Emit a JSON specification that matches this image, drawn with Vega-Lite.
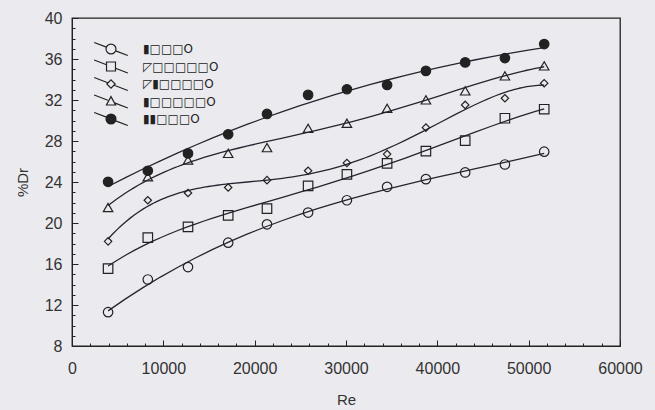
{
  "$schema": "https://vega.github.io/schema/vega-lite/v6.json",
  "width": 548,
  "height": 328,
  "autosize": {"type": "none"},
  "padding": {"left": 72, "top": 18, "right": 35, "bottom": 64},
  "background": "#ebebef",
  "config": {
    "view": {"stroke": "#222", "strokeWidth": 1.3},
    "axis": {"labelFont": "Liberation Sans", "titleFont": "Liberation Sans", "labelColor": "#333", "titleColor": "#333", "domainColor": "#222", "tickColor": "#222", "grid": false, "labelFontSize": 16, "titleFontSize": 15, "titleFontWeight": "normal"}
  },
  "data": {"values": [
    {"series": "▮□□□O", "Re": 3950, "Dr": 11.30},
    {"series": "▮□□□O", "Re": 8300, "Dr": 14.49},
    {"series": "▮□□□O", "Re": 12700, "Dr": 15.70},
    {"series": "▮□□□O", "Re": 17100, "Dr": 18.08},
    {"series": "▮□□□O", "Re": 21350, "Dr": 19.87},
    {"series": "▮□□□O", "Re": 25850, "Dr": 21.02},
    {"series": "▮□□□O", "Re": 30100, "Dr": 22.22},
    {"series": "▮□□□O", "Re": 34500, "Dr": 23.53},
    {"series": "▮□□□O", "Re": 38750, "Dr": 24.28},
    {"series": "▮□□□O", "Re": 43050, "Dr": 24.93},
    {"series": "▮□□□O", "Re": 47400, "Dr": 25.71},
    {"series": "▮□□□O", "Re": 51700, "Dr": 26.96},
    {"series": "◸□□□□□O", "Re": 3950, "Dr": 15.54},
    {"series": "◸□□□□□O", "Re": 8300, "Dr": 18.57},
    {"series": "◸□□□□□O", "Re": 12700, "Dr": 19.62},
    {"series": "◸□□□□□O", "Re": 17100, "Dr": 20.75},
    {"series": "◸□□□□□O", "Re": 21350, "Dr": 21.41},
    {"series": "◸□□□□□O", "Re": 25850, "Dr": 23.63},
    {"series": "◸□□□□□O", "Re": 30100, "Dr": 24.74},
    {"series": "◸□□□□□O", "Re": 34500, "Dr": 25.81},
    {"series": "◸□□□□□O", "Re": 38750, "Dr": 27.02},
    {"series": "◸□□□□□O", "Re": 43050, "Dr": 28.03},
    {"series": "◸□□□□□O", "Re": 47400, "Dr": 30.22},
    {"series": "◸□□□□□O", "Re": 51700, "Dr": 31.10},
    {"series": "◸▮□□□□O", "Re": 3950, "Dr": 18.21},
    {"series": "◸▮□□□□O", "Re": 8300, "Dr": 22.22},
    {"series": "◸▮□□□□O", "Re": 12700, "Dr": 22.93},
    {"series": "◸▮□□□□O", "Re": 17100, "Dr": 23.46},
    {"series": "◸▮□□□□O", "Re": 21350, "Dr": 24.18},
    {"series": "◸▮□□□□O", "Re": 25850, "Dr": 25.10},
    {"series": "◸▮□□□□O", "Re": 30100, "Dr": 25.86},
    {"series": "◸▮□□□□O", "Re": 34500, "Dr": 26.72},
    {"series": "◸▮□□□□O", "Re": 38750, "Dr": 29.31},
    {"series": "◸▮□□□□O", "Re": 43050, "Dr": 31.52},
    {"series": "◸▮□□□□O", "Re": 47400, "Dr": 32.17},
    {"series": "◸▮□□□□O", "Re": 51700, "Dr": 33.64},
    {"series": "▮□□□□□O", "Re": 3950, "Dr": 21.51},
    {"series": "▮□□□□□O", "Re": 8300, "Dr": 24.51},
    {"series": "▮□□□□□O", "Re": 12700, "Dr": 26.14},
    {"series": "▮□□□□□O", "Re": 17100, "Dr": 26.79},
    {"series": "▮□□□□□O", "Re": 21350, "Dr": 27.35},
    {"series": "▮□□□□□O", "Re": 25850, "Dr": 29.24},
    {"series": "▮□□□□□O", "Re": 30100, "Dr": 29.73},
    {"series": "▮□□□□□O", "Re": 34500, "Dr": 31.19},
    {"series": "▮□□□□□O", "Re": 38750, "Dr": 32.01},
    {"series": "▮□□□□□O", "Re": 43050, "Dr": 32.89},
    {"series": "▮□□□□□O", "Re": 47400, "Dr": 34.35},
    {"series": "▮□□□□□O", "Re": 51700, "Dr": 35.33},
    {"series": "▮▮□□□O", "Re": 3950, "Dr": 24.02},
    {"series": "▮▮□□□O", "Re": 8300, "Dr": 25.10},
    {"series": "▮▮□□□O", "Re": 12700, "Dr": 26.79},
    {"series": "▮▮□□□O", "Re": 17100, "Dr": 28.65},
    {"series": "▮▮□□□O", "Re": 21350, "Dr": 30.64},
    {"series": "▮▮□□□O", "Re": 25850, "Dr": 32.50},
    {"series": "▮▮□□□O", "Re": 30100, "Dr": 33.05},
    {"series": "▮▮□□□O", "Re": 34500, "Dr": 33.47},
    {"series": "▮▮□□□O", "Re": 38750, "Dr": 34.84},
    {"series": "▮▮□□□O", "Re": 43050, "Dr": 35.67},
    {"series": "▮▮□□□O", "Re": 47400, "Dr": 36.09},
    {"series": "▮▮□□□O", "Re": 51700, "Dr": 37.46}
  ]},
  "encoding": {
    "x": {"field": "Re", "type": "quantitative", "title": "Re",
      "scale": {"domain": [0, 60000], "nice": false, "zero": false},
      "axis": {"values": [0,2000,4000,6000,8000,10000,12000,14000,16000,18000,20000,22000,24000,26000,28000,30000,32000,34000,36000,38000,40000,42000,44000,46000,48000,50000,52000,54000,56000,58000,60000],
        "labelExpr": "datum.value % 10000 === 0 ? format(datum.value, 'd') : ''",
        "tickSize": {"condition": {"test": "datum.value % 10000 === 0", "value": -6}, "value": -3},
        "labelPadding": 20, "titlePadding": 13, "labelFlush": false, "labelOverlap": false}},
    "y": {"field": "Dr", "type": "quantitative", "title": "%Dr",
      "scale": {"domain": [8, 40], "nice": false, "zero": false},
      "axis": {"values": [8,9,10,11,12,13,14,15,16,17,18,19,20,21,22,23,24,25,26,27,28,29,30,31,32,33,34,35,36,37,38,39,40],
        "labelExpr": "datum.value % 4 === 0 ? datum.label : ''",
        "tickSize": {"condition": {"test": "datum.value % 4 === 0", "value": -6}, "value": -3},
        "labelPadding": 16, "titlePadding": 14, "labelFlush": false, "labelOverlap": false}}
  },
  "resolve": {"scale": {"shape": "independent"}, "legend": {"shape": "independent"}},
  "layer": [
    {
      "transform": [
        {"filter": "datum.series === '▮□□□O' || datum.series === '▮▮□□□O'"},
        {"regression": "Dr", "on": "Re", "groupby": ["series"], "method": "poly", "order": 3}
      ],
      "mark": {"type": "line", "stroke": "#2a2230", "strokeWidth": 1.3},
      "encoding": {"detail": {"field": "series"}}
    },
    {
      "transform": [
        {"filter": "datum.series !== '▮□□□O' && datum.series !== '▮▮□□□O'"},
        {"regression": "Dr", "on": "Re", "groupby": ["series"], "method": "poly", "order": 4}
      ],
      "mark": {"type": "line", "stroke": "#2a2230", "strokeWidth": 1.3},
      "encoding": {"detail": {"field": "series"}}
    },
    {
      "mark": {"type": "point", "filled": false, "stroke": "#222", "strokeWidth": 1.2, "opacity": 1},
      "encoding": {
        "shape": {"field": "series", "type": "nominal", "legend": null,
          "scale": {"domain": ["▮□□□O", "◸□□□□□O", "◸▮□□□□O", "▮□□□□□O", "▮▮□□□O"], "range": ["circle", "square", "diamond", "triangle-up", "circle"]}},
        "fill": {"condition": {"test": "datum.series === '▮▮□□□O'", "value": "#222"}, "value": "transparent"},
        "size": {"condition": {"test": "datum.series === '◸▮□□□□O'", "value": 55}, "value": 90}
      }
    },
    {
      "transform": [{"filter": "datum.Re < 0"}],
      "mark": {"type": "point", "filled": false, "stroke": "#222", "strokeWidth": 1.2, "opacity": 1},
      "encoding": {
        "shape": {"field": "series", "type": "nominal",
          "scale": {"domain": ["▮□□□O", "◸□□□□□O", "◸▮□□□□O", "▮□□□□□O", "▮▮□□□O"],
            "range": ["M-2.4,-0.93L-0.66,-0.26M0.66,0.26L2.4,0.93M0.71,0A0.71,0.71,0,1,1,-0.71,0A0.71,0.71,0,1,1,0.71,0Z", "M-2.4,-0.93L-0.64,-0.25M0.64,0.25L2.4,0.93M-0.64,-0.64H0.64V0.64H-0.64Z", "M-2.4,-0.93L-0.45,-0.17M0.45,0.17L2.4,0.93M0,-0.6L0.6,0L0,0.6L-0.6,0Z", "M-2.4,-0.93L-0.45,-0.17M0.5,0.19L2.4,0.93M0,-0.7L0.65,0.5L-0.65,0.5Z", "M-2.4,-0.93L-0.66,-0.26M0.66,0.26L2.4,0.93M0.71,0A0.71,0.71,0,1,1,-0.71,0A0.71,0.71,0,1,1,0.71,0ZM0.56,0A0.56,0.56,0,1,1,-0.56,0A0.56,0.56,0,1,1,0.56,0ZM0.41,0A0.41,0.41,0,1,1,-0.41,0A0.41,0.41,0,1,1,0.41,0ZM0.26,0A0.26,0.26,0,1,1,-0.26,0A0.26,0.26,0,1,1,0.26,0ZM0.11,0A0.11,0.11,0,1,1,-0.11,0A0.11,0.11,0,1,1,0.11,0Z"]},
          "legend": {"title": null, "orient": "none", "legendX": 31, "legendY": 23, "padding": 0,
            "symbolSize": 196, "labelOffset": 24, "rowPadding": -0.5,
            "symbolStrokeColor": "#222", "symbolStrokeWidth": 1.2,
            "labelFont": "DejaVu Sans", "labelFontSize": 12, "labelColor": "#222"}}
      }
    }
  ]
}
